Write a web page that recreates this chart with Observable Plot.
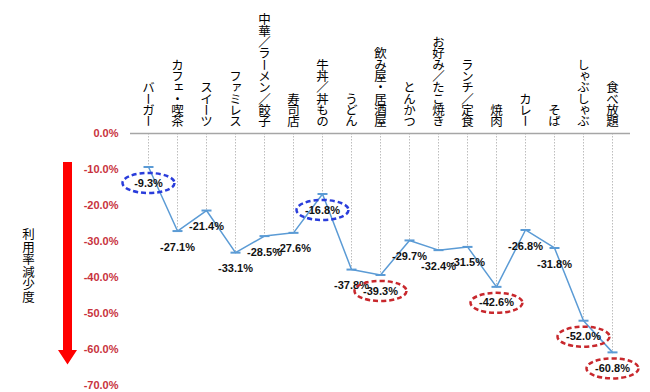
<!DOCTYPE html>
<html><head><meta charset="utf-8">
<script src="https://cdn.jsdelivr.net/npm/d3@7"></script>
<script src="https://cdn.jsdelivr.net/npm/@observablehq/plot@0.6"></script>
<style>
body{margin:0;background:#fff;}
</style></head><body><div id="chart"></div>
<script>
const categories = ["バーガー","カフェ・喫茶","スイーツ","ファミレス","中華／ラーメン／餃子","寿司店","牛丼／丼もの","うどん","飲み屋・居酒屋","とんかつ","お好み／たこ焼き","ランチ／定食","焼肉","カレー","そば","しゃぶしゃぶ","食べ放題"];
const values = [-9.3,-27.1,-21.4,-33.1,-28.5,-27.6,-16.8,-37.8,-39.3,-29.7,-32.4,-31.5,-42.6,-26.8,-31.8,-52.0,-60.8];
const highlights = ["best",null,null,null,null,null,"best",null,"worst",null,null,null,"worst",null,null,"worst","worst"];
const yTicks = [0,-10,-20,-30,-40,-50,-60,-70];
const axisTitle = "利用率減少度";

const data = categories.map((c,i)=>({cat:c, v:values[i], hl:highlights[i]}));
const fmt = d => d.toFixed(1) + "%";

const dash = {draw(ctx){ ctx.moveTo(-5,0); ctx.lineTo(5,0); }};
const ellipse = {draw(ctx){
  const rx=26, ry=10, k=0.5523;
  ctx.moveTo(rx,0);
  ctx.bezierCurveTo(rx, ry*k, rx*k, ry, 0, ry);
  ctx.bezierCurveTo(-rx*k, ry, -rx, ry*k, -rx, 0);
  ctx.bezierCurveTo(-rx, -ry*k, -rx*k, -ry, 0, -ry);
  ctx.bezierCurveTo(rx*k, -ry, rx, -ry*k, rx, 0);
  ctx.closePath();
}};
const arrow = {draw(ctx){
  const w=4.5, hw=9.5;
  ctx.moveTo(-w,-101); ctx.lineTo(w,-101); ctx.lineTo(w,87); ctx.lineTo(hw,87);
  ctx.lineTo(0,101.5); ctx.lineTo(-hw,87); ctx.lineTo(-w,87); ctx.closePath();
}};

const numFont = "'Liberation Sans', Arial, sans-serif";
const jpFont = "'Noto Sans CJK JP', sans-serif";

const chart = Plot.plot({
  width: 650, height: 392,
  marginLeft: 130, marginRight: 20, marginTop: 133, marginBottom: 7,
  style: {background: "#fff", fontFamily: numFont, overflow: "visible"},
  x: {type: "point", domain: categories, padding: 0.5, axis: null},
  y: {domain: [-70, 0]},
  color: {type: "ordinal", domain: ["best","worst"], range: ["#2A3DDB","#C8282D"]},
  marks: [
    Plot.axisY({ticks: yTicks, tickFormat: fmt, tickSize: 0, tickPadding: 12, fill: "#C8323C", fontWeight: "bold", fontSize: 11, label: null}),
    Plot.ruleX(data, {x: "cat", y1: 0, y2: "v", stroke: "#BDBDBD", strokeDasharray: "1.5,1.5"}),
    Plot.ruleY([0], {stroke: "#A6A6A6", strokeWidth: 1.5}),
    Plot.line(data, {x: "cat", y: "v", stroke: "#5B9BD5", strokeWidth: 1.5}),
    Plot.dot(data, {x: "cat", y: "v", symbol: dash, fill: "none", stroke: "#5B9BD5", strokeWidth: 2}),
    Plot.text(data, {x: "cat", y: "v", dy: 16, text: d => fmt(d.v), fontWeight: "bold", fontSize: 11, fill: "#111"}),
    Plot.dot(data.filter(d => d.hl), {x: "cat", y: "v", dy: 16, symbol: ellipse, fill: "none", stroke: "hl", strokeWidth: 2.5, strokeDasharray: "5,3"}),
    Plot.text(categories, {x: d => d, frameAnchor: "top", dy: -7, textAnchor: "end", lineAnchor: "bottom", fontSize: 12.5, fontFamily: jpFont, fill: "#000"}),
    Plot.text([axisTitle], {frameAnchor: "left", dx: -102, dy: 6, textAnchor: "middle", lineAnchor: "bottom", fontSize: 12.5, fontFamily: jpFont, fill: "#000"}),
    Plot.dot([0], {frameAnchor: "left", dx: -63, dy: 3.5, symbol: arrow, fill: "#FF0000", stroke: "none"})
  ]
});

const vertical = new Set([...categories, axisTitle]);
d3.select(chart).selectAll("text").filter(function(){ return vertical.has(this.textContent); })
  .style("writing-mode", "vertical-rl")
  .style("letter-spacing", function(){ return this.textContent === axisTitle ? "0px" : "-1.2px"; });

document.getElementById("chart").appendChild(chart);
</script>
</body></html>
